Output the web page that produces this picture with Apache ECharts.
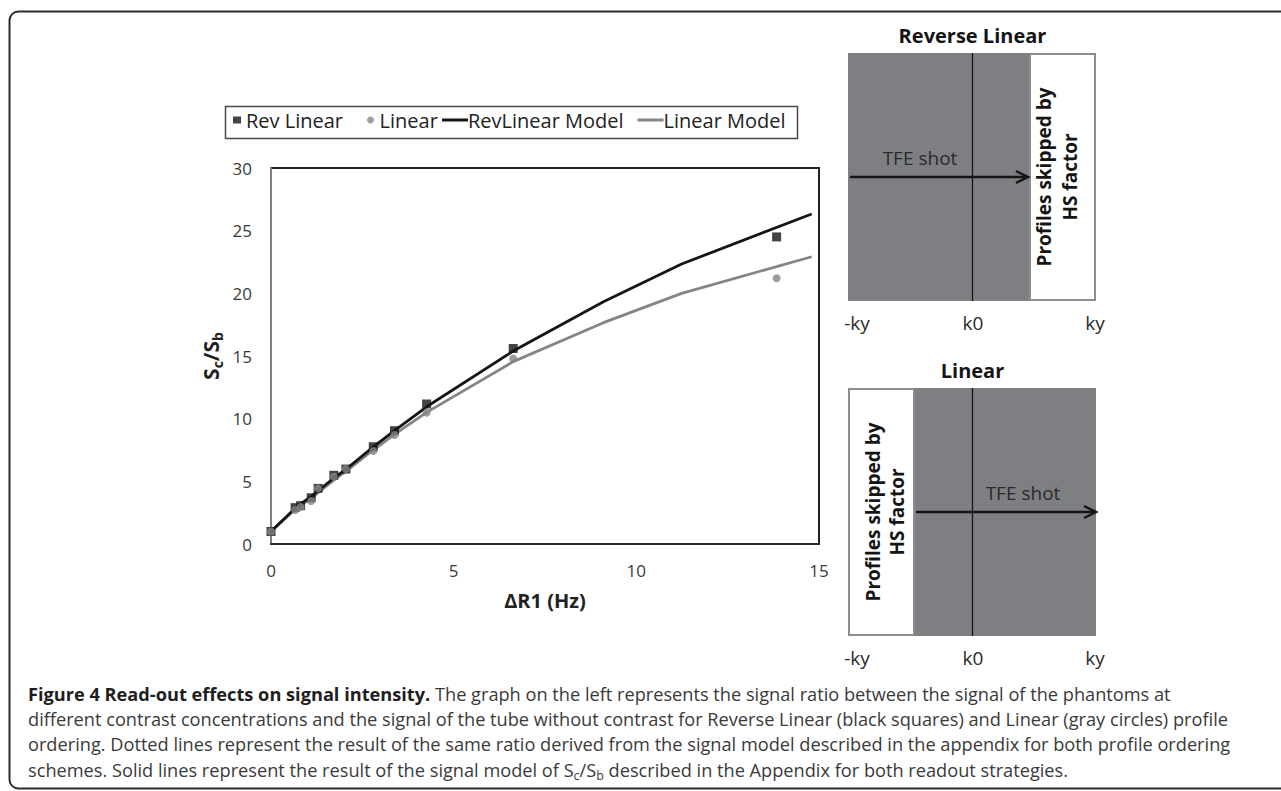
<!DOCTYPE html>
<html>
<head>
<meta charset="utf-8">
<title>Read-out effects on signal intensity</title>
<script src="https://cdn.jsdelivr.net/npm/echarts@6/dist/echarts.min.js"></script>
<style>
  html, body { margin: 0; padding: 0; background: #ffffff; }
  #chart { width: 1281px; height: 791px; }
</style>
</head>
<body>
<div id="chart"></div>
<script>
// Measured signal ratio Sc/Sb against ΔR1 (Hz)
const revLinearX = [0, 0.66, 0.81, 1.10, 1.29, 1.72, 2.05, 2.80, 3.38, 4.26, 6.63, 13.84];
const revLinearY = [1.0, 2.90, 3.06, 3.69, 4.44, 5.48, 5.98, 7.76, 9.04, 11.17, 15.6, 24.5];
const linearX = [0, 0.66, 0.81, 1.10, 1.29, 1.72, 2.05, 2.80, 3.38, 4.26, 6.63, 13.84];
const linearY = [1.0, 2.71, 2.95, 3.43, 4.44, 5.37, 5.98, 7.42, 8.70, 10.48, 14.8, 21.2];

// Signal model curves
const modelX = [0, 0.66, 0.81, 1.10, 1.29, 1.72, 2.05, 2.80, 3.38, 4.26, 6.63, 9.10, 11.24, 14.80];
const revLinearModel = [1.0, 2.85, 3.2, 3.8, 4.25, 5.25, 5.95, 7.75, 9.05, 10.95, 15.4, 19.33, 22.34, 26.33];
const linearModel = [1.0, 2.75, 3.1, 3.6, 4.1, 5.1, 5.8, 7.5, 8.75, 10.5, 14.55, 17.66, 20.0, 22.92];

// Axis ticks
const xTicks = [0, 5, 10, 15];
const yTicks = [0, 5, 10, 15, 20, 25, 30];

// k-space diagram labels
const kLabels = ['-ky', 'k0', 'ky'];
const panelTitles = ['Reverse Linear', 'Linear'];
const shotLabel = 'TFE shot';
const skippedLines = ['Profiles skipped by', 'HS factor'];

const seriesNames = ['Rev Linear', 'Linear', 'RevLinear Model', 'Linear Model'];

const captionLines = [
  '{b|Figure 4 Read-out effects on signal intensity.}{n| The graph on the left represents the signal ratio between the signal of the phantoms at}',
  '{n|different contrast concentrations and the signal of the tube without contrast for Reverse Linear (black squares) and Linear (gray circles) profile}',
  '{n|ordering. Dotted lines represent the result of the same ratio derived from the signal model described in the appendix for both profile ordering}',
  '{n|schemes. Solid lines represent the result of the signal model of S}{s|c}{n|/S}{s|b}{n| described in the Appendix for both readout strategies.}'
];

const pairs = (xs, ys) => xs.map((x, i) => [x, ys[i]]);

const FONT = '"Open Sans", "DejaVu Sans", sans-serif';
const DARK = '#151515';
const GRAY = '#858585';
const PANEL = '#7e7f83';

const chart = echarts.init(document.getElementById('chart'), null, { renderer: 'svg' });

// ---- k-space diagrams -------------------------------------------------------
function panel(top, titleY, labelY, skippedLeft) {
  const left = 848, width = 248, height = 248, mid = 972.5;
  const whiteW = 67;
  const els = [];
  const whiteX = skippedLeft ? left : left + width - whiteW;
  const grayX = skippedLeft ? left + whiteW : left;
  els.push({ type: 'rect', shape: { x: grayX, y: top, width: width - whiteW, height: height },
             style: { fill: PANEL }, z: 1 });
  els.push({ type: 'rect', shape: { x: whiteX + 1, y: top + 1, width: whiteW - 2, height: height - 2 },
             style: { fill: '#ffffff', stroke: '#8e8e8e', lineWidth: 2 }, z: 1 });
  els.push({ type: 'line', shape: { x1: mid, y1: top, x2: mid, y2: top + height },
             style: { stroke: DARK, lineWidth: 1.3 }, z: 2 });
  const ay = top + 124;
  const ax1 = skippedLeft ? left + whiteW + 1 : left + 2;
  const ax2 = skippedLeft ? left + width : left + width - whiteW - 1;
  els.push({ type: 'line', shape: { x1: ax1, y1: ay, x2: ax2 - 2, y2: ay },
             style: { stroke: DARK, lineWidth: 2.5 }, z: 3 });
  els.push({ type: 'polyline', shape: { points: [[ax2 - 12, ay - 6], [ax2, ay], [ax2 - 12, ay + 6]] },
             style: { stroke: DARK, lineWidth: 2.5, fill: null }, z: 3 });
  const shotX = skippedLeft ? 1023 : 920;
  els.push({ type: 'text', x: shotX, y: ay - 19, z: 4,
             style: { text: shotLabel, font: '19px ' + FONT, fill: '#2a2a2a', align: 'center', verticalAlign: 'middle' } });
  const sx = skippedLeft ? [873, 897] : [1044, 1070];
  skippedLines.forEach((t, i) => {
    els.push({ type: 'text', x: sx[i], y: ay, rotation: Math.PI / 2, z: 4,
               style: { text: t, font: 'bold 19px ' + FONT, fill: DARK, align: 'center', verticalAlign: 'middle' } });
  });
  els.push({ type: 'text', x: mid, y: titleY, z: 4,
             style: { text: skippedLeft ? panelTitles[1] : panelTitles[0], font: 'bold 20px ' + FONT,
                      fill: DARK, align: 'center', verticalAlign: 'middle' } });
  const lx = [857, 973, 1095];
  kLabels.forEach((t, i) => {
    els.push({ type: 'text', x: lx[i], y: labelY, z: 4,
               style: { text: t, font: '19px ' + FONT, fill: '#2a2a2a', align: 'center', verticalAlign: 'middle' } });
  });
  return els;
}

const graphics = [
  // figure frame
  { type: 'rect', shape: { x: 9.5, y: 11.5, width: 1290, height: 777, r: 9 },
    style: { fill: null, stroke: '#2a2a2a', lineWidth: 2 }, z: 0 },
  // legend frame
  { type: 'rect', shape: { x: 225.5, y: 106.5, width: 572, height: 32 },
    style: { fill: null, stroke: '#4a4a4a', lineWidth: 1.5 }, z: 0 }
].concat(panel(53, 35, 323, false), panel(388, 370, 658, true));

captionLines.forEach((t, i) => {
  graphics.push({
    type: 'text', x: 28, y: 694 + i * 25.2, z: 5,
    style: {
      text: t, align: 'left', verticalAlign: 'middle',
      rich: {
        b: { font: 'bold 18.2px ' + FONT, fill: '#1e1e1e', lineHeight: 24, verticalAlign: 'middle' },
        n: { font: '18.2px ' + FONT, fill: '#3a3a3a', lineHeight: 24, verticalAlign: 'middle' },
        s: { font: '12.5px ' + FONT, fill: '#3a3a3a', lineHeight: 9, verticalAlign: 'bottom' }
      }
    }
  });
});

const legendText = { fontFamily: FONT, fontSize: 20, color: '#222222' };

const option = {
  backgroundColor: '#ffffff',
  animation: false,
  textStyle: { fontFamily: FONT },
  grid: { left: 271, top: 168, width: 548, height: 376, show: true,
          borderColor: '#222222', borderWidth: 2, backgroundColor: 'transparent' },
  legend: [
    { data: seriesNames.slice(0, 2), left: 233, top: 110, padding: 0, itemGap: 24,
      itemWidth: 8, itemHeight: 7, symbolKeepAspect: true,
      textStyle: Object.assign({ padding: [0, 0, 0, 0] }, legendText) },
    { data: seriesNames.slice(2).map(n => ({ name: n, icon: 'rect' })), left: 442, top: 110, padding: 0,
      itemGap: 14, itemWidth: 26, itemHeight: 3,
      textStyle: Object.assign({ padding: [0, 0, 0, -5] }, legendText) }
  ],
  xAxis: {
    type: 'value', min: xTicks[0], max: xTicks[xTicks.length - 1], interval: 5,
    axisLine: { show: true, onZero: false, lineStyle: { color: '#2a2a2a', width: 2 } },
    axisTick: { show: false }, splitLine: { show: false },
    axisLabel: { fontFamily: FONT, fontSize: 17, color: '#3a3a3a', margin: 18 },
    name: 'ΔR1 (Hz)', nameLocation: 'middle', nameGap: 46,
    nameTextStyle: { fontFamily: FONT, fontSize: 20, fontWeight: 'bold', color: '#222222' }
  },
  yAxis: {
    type: 'value', min: yTicks[0], max: yTicks[yTicks.length - 1], interval: 5,
    axisLine: { show: true, onZero: false, lineStyle: { color: '#7f7f7f', width: 2 } },
    axisTick: { show: false }, splitLine: { show: false },
    axisLabel: { fontFamily: FONT, fontSize: 17, color: '#3a3a3a', margin: 19 },
    name: '{m|S}{s|c}{m|/S}{s|b}', nameLocation: 'middle', nameGap: 47, nameRotate: 90,
    nameTextStyle: {
      rich: {
        m: { fontFamily: FONT, fontSize: 21, fontWeight: 'bold', color: '#222222', lineHeight: 26, verticalAlign: 'middle' },
        s: { fontFamily: FONT, fontSize: 14, fontWeight: 'bold', color: '#222222', lineHeight: 10, verticalAlign: 'bottom' }
      }
    }
  },
  series: [
    { name: seriesNames[2], type: 'line', data: pairs(modelX, revLinearModel), symbol: 'none',
      lineStyle: { color: DARK, width: 2.8 }, itemStyle: { color: DARK }, z: 2 },
    { name: seriesNames[3], type: 'line', data: pairs(modelX, linearModel), symbol: 'none',
      lineStyle: { color: GRAY, width: 2.8 }, itemStyle: { color: GRAY }, z: 1 },
    { name: seriesNames[0], type: 'scatter', data: pairs(revLinearX, revLinearY), symbol: 'rect',
      symbolSize: 9, itemStyle: { color: DARK }, z: 3 },
    { name: seriesNames[1], type: 'scatter', data: pairs(linearX, linearY), symbol: 'circle',
      symbolSize: 8, itemStyle: { color: GRAY }, z: 4 }
  ],
  graphic: graphics
};

chart.setOption(option);
</script>
</body>
</html>
